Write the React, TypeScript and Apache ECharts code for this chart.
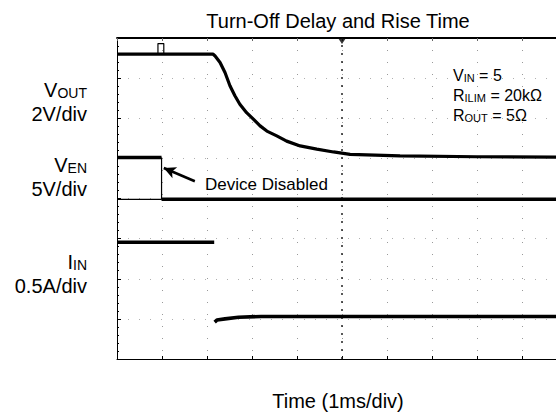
import React, { useEffect, useRef } from "react";
import * as echarts from "echarts";

// Scope screen: x in divisions (1 ms/div), y in divisions
const voutX = [0, 2.13, 2.18, 2.29, 2.4, 2.51, 2.62, 2.73, 2.88, 3.03, 3.18, 3.33, 3.55, 3.77, 4.07, 4.44, 4.81, 5.18, 6.29, 8.0, 10];
const voutY = [7.6, 7.6, 7.55, 7.39, 7.14, 6.81, 6.56, 6.35, 6.14, 5.98, 5.81, 5.68, 5.56, 5.43, 5.31, 5.23, 5.16, 5.1, 5.06, 5.04, 5.03];
const markerX = [0.91, 0.91, 1.04, 1.04];
const markerY = [7.62, 7.86, 7.86, 7.62];
const venHighX = [0, 0.99];
const venHighY = [5.02, 5.02];
const venLowX = [0.99, 10];
const venLowY = [3.98, 3.98];
const venBaseX = [0, 0.99, 0.99];
const venBaseY = [3.98, 3.98, 5.02];
const iinHighX = [0, 2.16];
const iinHighY = [2.91, 2.91];
const iinLowX = [2.17, 2.22, 2.4, 2.7, 3.2, 5.0, 10];
const iinLowY = [0.92, 0.97, 1.0, 1.04, 1.06, 1.06, 1.06];
const triggerPos = [5, 8];
const arrowFrom = [1.73, 4.43];
const arrowTo = [1.04, 4.76];

const zip = (xs: number[], ys: number[]) => xs.map((x, i) => [x, ys[i]]);

const FONT = 'Arial, "Liberation Sans", Helvetica, sans-serif';

export default function App() {
  const ref = useRef<HTMLDivElement>(null);
  useEffect(() => {
    if (!ref.current) return;
    const chart = echarts.init(ref.current, null, { renderer: "svg" });
    const trace = (data: any[], width: number) => ({
      type: "line",
      data,
      showSymbol: false,
      symbol: "none",
      silent: true,
      lineStyle: { color: "#000", width },
      z: 5,
    });
    const sub = (big: number, small: number, lh: number) => ({
      a: { fontSize: big, fontFamily: FONT, lineHeight: lh, verticalAlign: "bottom" },
      s: { fontSize: small, fontFamily: FONT, lineHeight: lh, verticalAlign: "bottom" },
    });
    chart.setOption({
      animation: false,
      backgroundColor: "#fff",
      grid: { left: 117, top: 38, width: 450, height: 321, containLabel: false, outerBoundsMode: "none" },
      xAxis: [
        {
          type: "value", min: 0, max: 10, interval: 1,
          axisLine: { show: true, onZero: false, lineStyle: { color: "#000", width: 1 } },
          axisTick: { show: true, inside: true, length: 3, lineStyle: { color: "#000" } },
          axisLabel: { show: false },
          splitLine: { show: true, lineStyle: { color: "#9a9a9a", type: [1, 11], width: 1 } },
        },
        {
          type: "value", position: "top", min: 0, max: 10, interval: 1,
          axisLine: { show: true, onZero: false, lineStyle: { color: "#000", width: 1.8 } },
          axisTick: { show: true, inside: true, length: 3, lineStyle: { color: "#666" } },
          axisLabel: { show: false },
          splitLine: { show: false },
        },
      ],
      yAxis: {
        type: "value", min: 0, max: 8, interval: 1,
        axisLine: { show: true, onZero: false, lineStyle: { color: "#000", width: 1 } },
        axisTick: { show: true, inside: true, length: 4, lineStyle: { color: "#000" } },
        minorTick: { show: true, splitNumber: 5, length: 2, lineStyle: { color: "#000" } },
        axisLabel: { show: false },
        splitLine: { show: true, lineStyle: { color: "#b0b0b0", type: [1, 10], width: 1 } },
      },
      series: [
        {
          ...trace(zip(voutX, voutY), 3.2),
          markLine: {
            silent: true,
            symbol: ["none", "none"],
            label: { show: false },
            lineStyle: { color: "#222", type: [2, 6], width: 1.5 },
            data: [{ xAxis: triggerPos[0] }],
          },
        },
        trace(zip(markerX, markerY), 1.2),
        trace(zip(venHighX, venHighY), 3.4),
        trace(zip(venLowX, venLowY), 3.4),
        trace(zip(venBaseX, venBaseY), 1.2),
        trace(zip(iinHighX, iinHighY), 3.6),
        {
          ...trace(zip(iinLowX, iinLowY), 3.6),
          markLine: {
            silent: true,
            symbol: ["none", "arrow"],
            symbolSize: [9, 12],
            label: { show: false },
            lineStyle: { color: "#000", type: "solid", width: 2.5 },
            data: [[{ coord: arrowFrom }, { coord: arrowTo }]],
          },
        },
        {
          type: "scatter",
          data: [triggerPos],
          symbol: "triangle",
          symbolRotate: 180,
          symbolSize: [8, 6],
          symbolOffset: [0, 3],
          itemStyle: { color: "#000" },
          silent: true,
          z: 6,
        },
      ],
      graphic: [
        { type: "text", x: 338, y: 21, style: { text: "Turn-Off Delay and Rise Time", font: `20px ${FONT}`, fill: "#000", textAlign: "center", textVerticalAlign: "middle" } },
        { type: "text", x: 338, y: 401, style: { text: "Time (1ms/div)", font: `20px ${FONT}`, fill: "#000", textAlign: "center", textVerticalAlign: "middle" } },
        { type: "text", x: 87, y: 100, style: { text: "{a|V}{s|OUT}\n{a|2V/div}", fill: "#000", textAlign: "right", textVerticalAlign: "middle", rich: sub(20, 14, 24) } },
        { type: "text", x: 87, y: 175, style: { text: "{a|V}{s|EN}\n{a|5V/div}", fill: "#000", textAlign: "right", textVerticalAlign: "middle", rich: sub(20, 14, 24) } },
        { type: "text", x: 87, y: 272, style: { text: "{a|I}{s|IN}\n{a|0.5A/div}", fill: "#000", textAlign: "right", textVerticalAlign: "middle", rich: sub(20, 14, 24) } },
        {
          type: "text", x: 453, y: 93,
          style: {
            text: "{a|V}{s|IN}{a| = 5}\n{a|R}{s|ILIM}{a| = 20kΩ}\n{a|R}{s|OUT}{a| = 5Ω}",
            fill: "#000", textAlign: "left", textVerticalAlign: "middle", rich: sub(16, 11, 20), backgroundColor: "#fff",
          },
        },
        { type: "text", x: 205, y: 184, style: { text: "Device Disabled", font: `17px ${FONT}`, fill: "#000", textAlign: "left", textVerticalAlign: "middle", backgroundColor: "#fff" }, z: 10 },
      ],
    });
    return () => chart.dispose();
  }, []);
  return <div ref={ref} style={{ position: "absolute", left: 0, top: 0, width: 556, height: 415 }} />;
}
